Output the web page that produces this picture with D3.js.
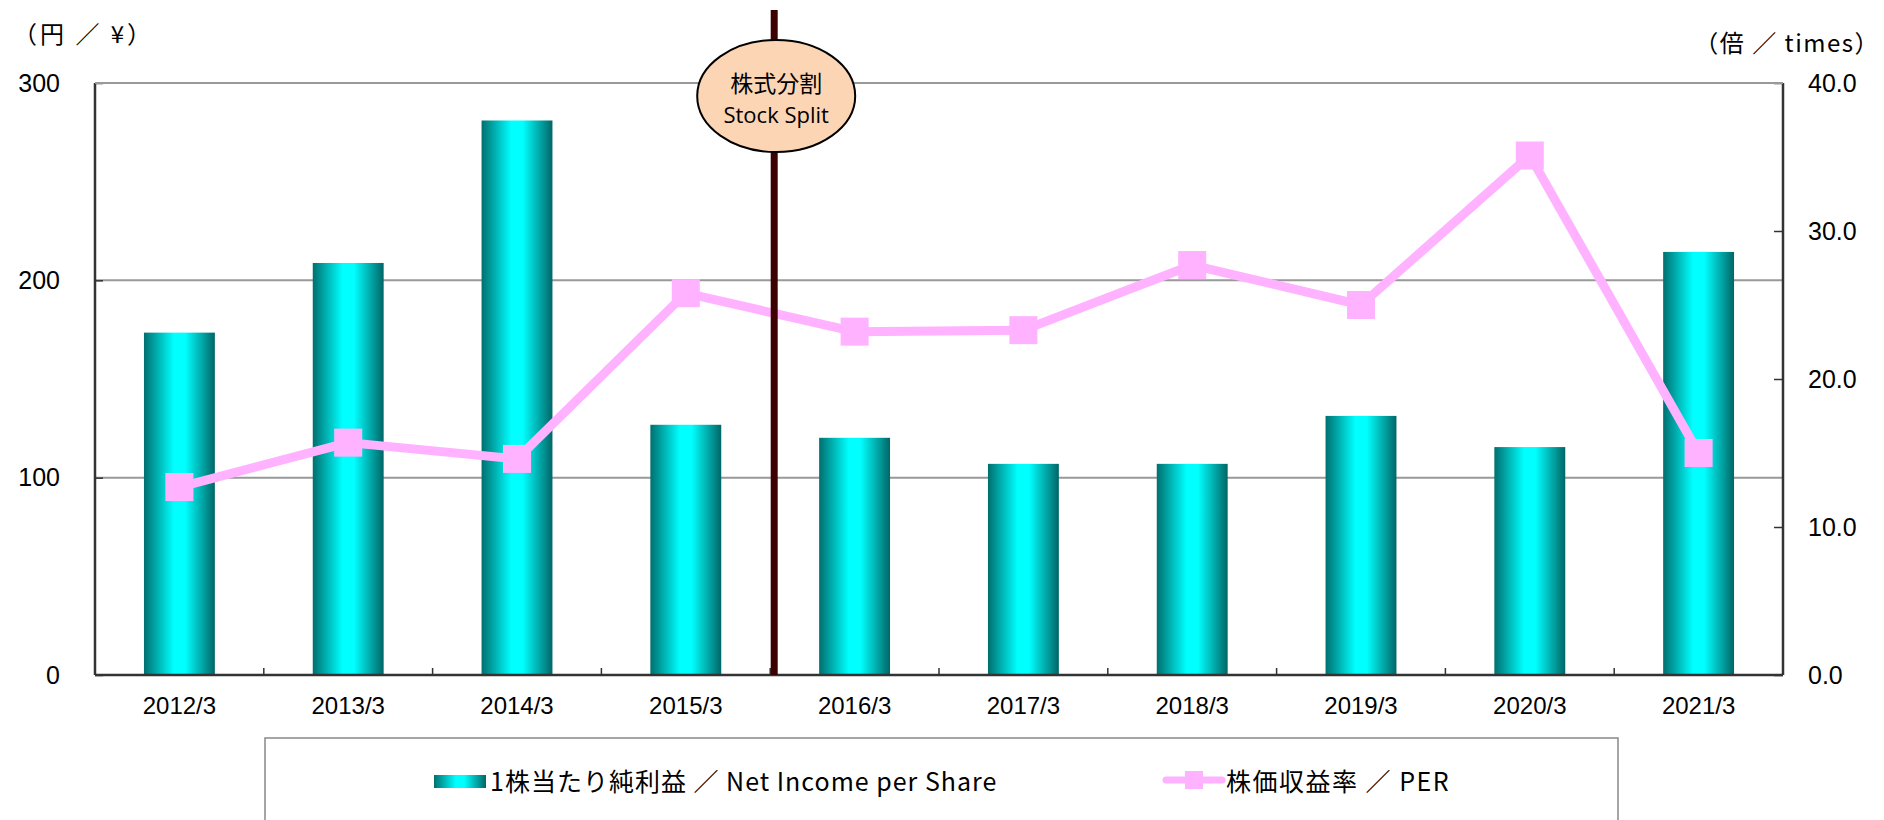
<!DOCTYPE html>
<html>
<head>
<meta charset="utf-8">
<script src="https://cdn.jsdelivr.net/npm/d3@7"></script>
<style>
  body { margin: 0; background: #fff; }
  .tick text { font-family: "Liberation Sans", Arial, sans-serif; }
  .jp { font-family: "Noto Sans CJK JP", sans-serif; }
</style>
</head>
<body>
<script>
// values
var categories = ["2012/3", "2013/3", "2014/3", "2015/3", "2016/3", "2017/3", "2018/3", "2019/3", "2020/3", "2021/3"];
var epsValues = [173.5, 208.8, 281.0, 126.8, 120.2, 107.0, 107.0, 131.3, 115.5, 214.4];
var perValues = [12.7, 15.7, 14.6, 25.8, 23.2, 23.3, 27.7, 25.0, 35.1, 15.0];
var leftTicks = [0, 100, 200, 300];
var rightTicks = [0, 10, 20, 30, 40];
var splitAfter = "2015/3";

var width = 1884, height = 820;
var pLeft = 95, pRight = 1783, pTop = 83, pBottom = 675;

var svg = d3.select("body")
  .append("svg")
  .attr("width", width)
  .attr("height", height);

var defs = svg.append("defs");
var grad = defs.append("linearGradient")
  .attr("id", "barGrad")
  .attr("x1", "0").attr("x2", "1").attr("y1", "0").attr("y2", "0");
grad.append("stop").attr("offset", "0").attr("stop-color", "#006f6f");
grad.append("stop").attr("offset", "0.42").attr("stop-color", "#00ffff");
grad.append("stop").attr("offset", "0.58").attr("stop-color", "#00ffff");
grad.append("stop").attr("offset", "1").attr("stop-color", "#006666");

var x = d3.scaleBand()
  .domain(categories)
  .range([pLeft, pRight]);

var yL = d3.scaleLinear().domain([0, 300]).range([pBottom, pTop]);
var yR = d3.scaleLinear().domain([0, 40]).range([pBottom, pTop]);

// grid lines
svg.selectAll(".grid")
  .data(leftTicks.slice(1))
  .enter()
  .append("line")
  .attr("class", "grid")
  .attr("x1", pLeft).attr("x2", pRight)
  .attr("y1", function(d){ return yL(d); })
  .attr("y2", function(d){ return yL(d); })
  .attr("stroke", "#999")
  .attr("stroke-width", 2);

// bars
var barW = x.bandwidth() * 0.42;
svg.selectAll(".bar")
  .data(epsValues)
  .enter()
  .append("rect")
  .attr("class", "bar")
  .attr("x", function(d, i){ return x(categories[i]) + (x.bandwidth() - barW) / 2; })
  .attr("y", function(d){ return yL(d); })
  .attr("width", barW)
  .attr("height", function(d){ return yL(0) - yL(d); })
  .attr("fill", "url(#barGrad)");

// axes
var axisL = svg.append("g")
  .attr("transform", "translate(" + pLeft + ",0)")
  .call(d3.axisLeft(yL).tickValues(leftTicks).tickSize(-8).tickPadding(35));
var axisR = svg.append("g")
  .attr("transform", "translate(" + pRight + ",0)")
  .call(d3.axisRight(yR).tickValues(rightTicks).tickSize(-9).tickPadding(25)
    .tickFormat(d3.format(".1f")));
var axisB = svg.append("g")
  .attr("transform", "translate(0," + pBottom + ")")
  .call(d3.axisBottom(x).tickSize(0).tickPadding(22));

[axisL, axisR, axisB].forEach(function(g){
  g.select(".domain").attr("stroke", "#333").attr("stroke-width", 2.5);
  g.selectAll(".tick line").attr("stroke", "#333").attr("stroke-width", 1.5);
  g.selectAll(".tick text").attr("font-size", 25).attr("fill", "#000");
});
axisB.selectAll(".tick text").attr("font-size", 24);
axisL.select(".domain").attr("d", "M0," + pTop + "V" + pBottom);
axisR.select(".domain").attr("d", "M0," + pTop + "V" + pBottom);
axisB.select(".domain").attr("d", "M" + pLeft + ",0H" + pRight);

// inner ticks on x axis between categories
svg.selectAll(".xtick")
  .data(categories.slice(1))
  .enter()
  .append("line")
  .attr("x1", function(d){ return x(d); })
  .attr("x2", function(d){ return x(d); })
  .attr("y1", pBottom).attr("y2", pBottom - 7)
  .attr("stroke", "#333").attr("stroke-width", 1.5);

// top border
svg.append("line")
  .attr("x1", pLeft).attr("x2", pRight)
  .attr("y1", pTop).attr("y2", pTop)
  .attr("stroke", "#999").attr("stroke-width", 2);

// PER line
var line = d3.line()
  .x(function(d, i){ return x(categories[i]) + x.bandwidth() / 2; })
  .y(function(d){ return yR(d); });

svg.append("path")
  .datum(perValues)
  .attr("d", line)
  .attr("fill", "none")
  .attr("stroke", "#ffb2ff")
  .attr("stroke-width", 9)
  .attr("stroke-linejoin", "round");

var mk = 28;
svg.selectAll(".marker")
  .data(perValues)
  .enter()
  .append("rect")
  .attr("x", function(d, i){ return x(categories[i]) + x.bandwidth() / 2 - mk / 2; })
  .attr("y", function(d){ return yR(d) - mk / 2; })
  .attr("width", mk).attr("height", mk)
  .attr("fill", "#ffb2ff");

// stock split marker
var sx = x(splitAfter) + x.bandwidth() + 4;
svg.append("line")
  .attr("x1", sx).attr("x2", sx)
  .attr("y1", 10).attr("y2", pBottom)
  .attr("stroke", "#3d0000")
  .attr("stroke-width", 7);
svg.append("ellipse")
  .attr("cx", sx + 2).attr("cy", 96)
  .attr("rx", 79).attr("ry", 56)
  .attr("fill", "#fcd5b4")
  .attr("stroke", "#000")
  .attr("stroke-width", 2);
svg.append("text")
  .attr("class", "jp")
  .attr("x", sx + 2).attr("y", 92)
  .attr("text-anchor", "middle")
  .attr("font-size", 23)
  .text("株式分割");
svg.append("text")
  .attr("x", sx + 2).attr("y", 123)
  .attr("text-anchor", "middle")
  .attr("font-family", "'Open Sans', sans-serif")
  .attr("font-size", 22)
  .text("Stock Split");

// axis titles
svg.append("text")
  .attr("class", "jp")
  .attr("x", 13).attr("y", 43)
  .attr("font-size", 24)
  .attr("letter-spacing", 3)
  .text("（円 ／ ¥）");
svg.append("text")
  .attr("class", "jp")
  .attr("x", 1880).attr("y", 52)
  .attr("text-anchor", "end")
  .attr("font-size", 24)
  .attr("letter-spacing", 1.5)
  .text("（倍 ／ times）");

// legend
svg.append("rect")
  .attr("x", 265).attr("y", 738)
  .attr("width", 1618 - 265).attr("height", 120)
  .attr("fill", "#fff")
  .attr("stroke", "#888")
  .attr("stroke-width", 1.5);

svg.append("rect")
  .attr("x", 434).attr("y", 775)
  .attr("width", 52).attr("height", 13)
  .attr("fill", "url(#barGrad)");
svg.append("text")
  .attr("class", "jp")
  .attr("x", 490).attr("y", 791)
  .attr("font-size", 25)
  .attr("letter-spacing", 1)
  .text("1株当たり純利益 ／ Net Income per Share");

svg.append("line")
  .attr("x1", 1166).attr("x2", 1222)
  .attr("y1", 780).attr("y2", 780)
  .attr("stroke", "#ffb2ff").attr("stroke-width", 7)
  .attr("stroke-linecap", "round");
svg.append("rect")
  .attr("x", 1185).attr("y", 771)
  .attr("width", 18).attr("height", 18)
  .attr("fill", "#ffb2ff");
svg.append("text")
  .attr("class", "jp")
  .attr("x", 1226).attr("y", 791)
  .attr("font-size", 25)
  .attr("letter-spacing", 1.5)
  .text("株価収益率 ／ PER");
</script>
</body>
</html>
